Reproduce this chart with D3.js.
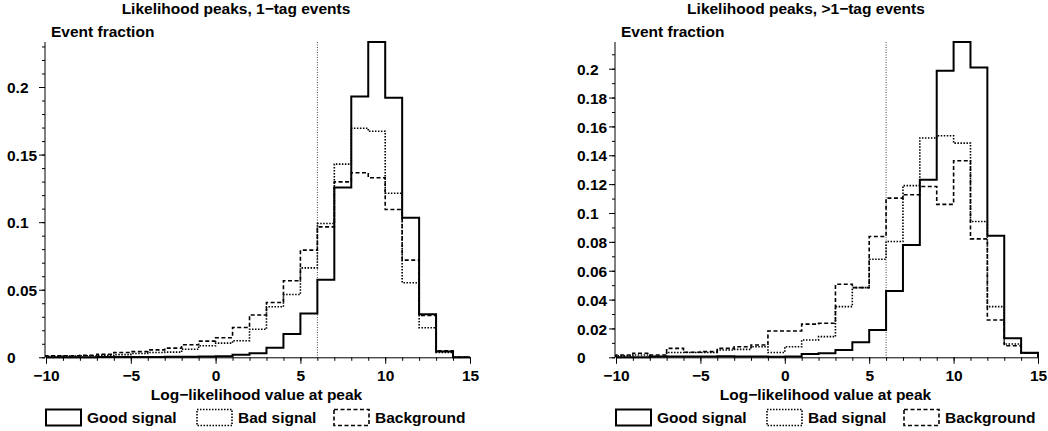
<!DOCTYPE html>
<html><head><meta charset="utf-8">
<script src="https://cdn.jsdelivr.net/npm/d3@7"></script>
<style>
body{margin:0;background:#fff}
text{font-family:"Liberation Sans",Arial,Helvetica,sans-serif;font-weight:bold;font-size:15.5px;fill:#000}
</style>
</head><body>
<svg id="c" width="1048" height="431"></svg>
<script>
// ---- data ----
const binLow = [-10,-9,-8,-7,-6,-5,-4,-3,-2,-1,0,1,2,3,4,5,6,7,8,9,10,11,12,13,14];
const binWidth = 1;

// 1-tag events
const good1 = [0,0,0,0.0002,0.0002,0.0003,0.0003,0.0004,0.0004,0.0005,0.0008,0.0018,0.003,0.0071,0.0172,0.0325,0.0574,0.1256,0.193,0.2333,0.192,0.1032,0.0318,0.0042,0];
const bad1  = [0.0007,0.0009,0.0012,0.0015,0.002,0.0028,0.0035,0.0038,0.006,0.0085,0.0105,0.0123,0.0207,0.0374,0.0465,0.0662,0.099,0.1429,0.1695,0.1673,0.1214,0.0552,0.0219,0.0035,0];
const bkg1  = [0.0012,0.0012,0.0015,0.0022,0.0035,0.0042,0.0055,0.0068,0.0093,0.012,0.0145,0.022,0.0313,0.0406,0.0566,0.0793,0.0965,0.1298,0.1365,0.1328,0.1094,0.0719,0.031,0.0049,0];

// >1-tag events
const goodN = [0,0,0.0005,0.0005,0.0005,0.0005,0.0008,0.0005,0.0005,0.0003,0.0005,0.0023,0.0028,0.0051,0.0104,0.0189,0.046,0.0779,0.123,0.1986,0.2185,0.2009,0.0842,0.0132,0.0032];
const badN  = [0.001,0.0016,0.0005,0.0033,0.0033,0.0033,0.0051,0.0055,0.0073,0.0033,0.0073,0.012,0.0143,0.0351,0.0483,0.068,0.0802,0.119,0.152,0.1535,0.1484,0.0941,0.0351,0.0092,0.0028];
const bkgN  = [0.0016,0.0028,0.0016,0.0062,0.0035,0.0039,0.0062,0.0073,0.0085,0.0182,0.0182,0.023,0.0236,0.0506,0.0483,0.0837,0.1103,0.1126,0.1184,0.106,0.1362,0.0821,0.0259,0.008,0.0028];

const xTickValues = [-10,-5,0,5,10,15];
const xTickLabels = ["\u221210","\u22125","0","5","10","15"];
const yTicks1 = [0,0.05,0.1,0.15,0.2];
const yTickLabels1 = ["0","0.05","0.1","0.15","0.2"];
const yTicksN = [0,0.02,0.04,0.06,0.08,0.1,0.12,0.14,0.16,0.18,0.2];
const yTickLabelsN = ["0","0.02","0.04","0.06","0.08","0.1","0.12","0.14","0.16","0.18","0.2"];
const yMax1 = 0.2333, yMaxN = 0.2185;
const cutValue = 6;
const titles = ["Likelihood peaks, 1\u2212tag events","Likelihood peaks, >1\u2212tag events"];
const yTitle = "Event fraction";
const xTitle = "Log\u2212likelihood value at peak";
const seriesNames = ["Good signal","Bad signal","Background"];

// ---- drawing ----
const svg = d3.select("#c");
const styles = [
  {w:2, dash:null},
  {w:1.6, dash:"1.5,1.5"},
  {w:1.6, dash:"4,2.5"}
];

const panels = [
  {x0:46, x1:470, series:[good1,bad1,bkg1], yMax:yMax1, yTicks:yTicks1, yLabels:yTickLabels1, title:titles[0]},
  {x0:616, x1:1038, series:[goodN,badN,bkgN], yMax:yMaxN, yTicks:yTicksN, yLabels:yTickLabelsN, title:titles[1]}
];
const yTop = 42, yBot = 357.3;

panels.forEach(p => {
  const x = d3.scaleLinear().domain([-10,15]).range([p.x0,p.x1]);
  const y = d3.scaleLinear().domain([0,p.yMax]).range([yBot,yTop]);
  const g = svg.append("g");

  // cut line
  g.append("line").attr("x1",x(cutValue)).attr("x2",x(cutValue))
    .attr("y1",yTop).attr("y2",yBot)
    .attr("stroke","#444").attr("stroke-width",1).attr("stroke-dasharray","1,1.5");

  // histograms
  const line = d3.line().x(d=>x(d[0])).y(d=>y(d[1])).curve(d3.curveStepAfter);
  p.series.forEach((vals,si) => {
    const pts = [[binLow[0],0]];
    vals.forEach((v,i)=>pts.push([binLow[i],v]));
    const lastEdge = binLow[binLow.length-1]+binWidth;
    pts.push([lastEdge, vals[vals.length-1]]);
    pts.push([lastEdge, 0]);
    g.append("path").attr("d",line(pts)).attr("fill","none")
      .attr("stroke","#000").attr("stroke-width",styles[si].w)
      .attr("stroke-dasharray",styles[si].dash);
  });

  // x axis
  const xMinor = d3.axisBottom(x).tickValues(d3.range(-10,16,1)).tickSize(3.5).tickSizeOuter(0).tickFormat("");
  g.append("g").attr("transform",`translate(0,${yBot})`).call(xMinor)
    .call(s=>s.select(".domain").remove());
  const xAxis = d3.axisBottom(x).tickValues(xTickValues).tickSize(6.5).tickSizeOuter(0)
    .tickFormat((d,i)=>xTickLabels[i]);
  const xa = g.append("g").attr("transform",`translate(0,${yBot})`).call(xAxis);
  xa.selectAll("text").attr("y",null).attr("dy",null).attr("transform","translate(0,23.5)");
  xa.attr("font-family",null).attr("font-size",null);

  // y axis
  const yMinor = d3.axisLeft(y).tickValues(d3.range(0,p.yMax,0.01)).tickSize(3).tickSizeOuter(0).tickFormat("");
  g.append("g").attr("transform",`translate(${p.x0-1},0)`).call(yMinor)
    .call(s=>s.select(".domain").remove());
  const yAxis = d3.axisLeft(y).tickValues(p.yTicks).tickSize(6).tickSizeOuter(0)
    .tickFormat((d,i)=>p.yLabels[i]);
  const ya = g.append("g").attr("transform",`translate(${p.x0-1},0)`).call(yAxis);
  ya.selectAll("text").attr("x",-38).attr("text-anchor","start").attr("dy","0.36em");
  ya.attr("font-family",null).attr("font-size",null);
  ya.select(".domain").attr("d",`M0,${yTop}V${yBot}`);
  g.selectAll(".domain").attr("stroke-width",1);

  // titles
  g.append("text").attr("x",p.x0+190).attr("y",14).attr("text-anchor","middle").text(p.title);
  g.append("text").attr("x",p.x0+5).attr("y",36.5).text(yTitle);
  g.append("text").attr("x",(p.x0+p.x1)/2-1.5).attr("y",399.5).attr("text-anchor","middle").text(xTitle);

  // legend
  const legOff = [0,151,288];
  seriesNames.forEach((nm,i)=>{
    const lx = p.x0 + legOff[i];
    g.append("rect").attr("x",lx).attr("y",409.5).attr("width",35).attr("height",16)
      .attr("fill","none").attr("stroke","#000").attr("stroke-width",styles[i].w)
      .attr("stroke-dasharray",styles[i].dash);
    g.append("text").attr("x",lx+41).attr("y",423).text(nm);
  });
});
</script>
</body></html>
